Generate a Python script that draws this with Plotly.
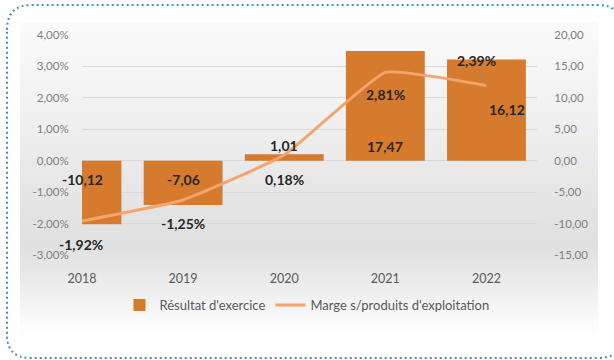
import plotly.graph_objects as go

# données
annees = ["2018", "2019", "2020", "2021", "2022"]
resultat = [-10.12, -7.06, 1.01, 17.47, 16.12]
marge = [-1.92, -1.25, 0.18, 2.81, 2.39]  # en %
ticks_gauche = [-3, -2, -1, 0, 1, 2, 3, 4]
ticks_droite = [-15, -10, -5, 0, 5, 10, 15, 20]

W, H = 614, 360
ORANGE = "#D67A2E"
SAUMON = "#F5A46E"


def fr(v, suffixe=""):
    return f"{v:.2f}".replace(".", ",") + suffixe


def p(x, y):
    # pixel -> coordonnées du calque de fond
    return f"{x},{H - y}"


fig = go.Figure()

# fond dégradé gris (décor)
fig.add_trace(go.Scatter(
    x=[20, 598, 598, 20, 20], y=[H - 22, H - 22, H - 335, H - 335, H - 22],
    mode="lines", line=dict(width=0), fill="toself",
    fillgradient=dict(
        type="vertical", start=H - 335, stop=H - 22,
        colorscale=[[0, "#ffffff"], [0.08, "#f6f6f6"], [0.18, "#eaeaea"],
                    [0.29, "#e0e0e0"], [0.46, "#e6e6e6"], [0.69, "#f0f0f0"],
                    [1, "#fbfbfb"]],
    ),
    xaxis="x", yaxis="y", hoverinfo="skip", showlegend=False,
))

fig.add_trace(go.Bar(
    x=annees, y=resultat, name="Résultat d'exercice",
    marker=dict(color=ORANGE, line=dict(width=0)),
    xaxis="x2", yaxis="y2",
))

fig.add_trace(go.Scatter(
    x=annees, y=marge, name="Marge s/produits d'exploitation",
    mode="lines", line=dict(color=SAUMON, width=3, shape="spline", smoothing=0.35),
    xaxis="x2", yaxis="y3",
))

# étiquettes des barres (décalages en pixels)
base_barre = [True, True, False, True, False]
decal_barre = [(0, -19), (0, -19), (0, 9), (0, 14), (21, -50)]
for i, (v, base, (dx, dy)) in enumerate(zip(resultat, base_barre, decal_barre)):
    fig.add_annotation(
        x=i, y=0 if base else v, xref="x2", yref="y2", text=f"<b>{fr(v)}</b>",
        showarrow=False, xshift=dx, yshift=dy,
        font=dict(size=14, color="#262626"),
    )

# étiquettes de la courbe
decal_ligne = [(-1, -23), (0, -23), (0, -24), (0, -22), None]
for i, (v, d) in enumerate(zip(marge, decal_ligne)):
    if d is None:
        fig.add_annotation(
            x=i, y=v, xref="x2", yref="y3", text=f"<b>{fr(v, '%')}</b>",
            showarrow=True, ax=-10, ay=-25, arrowhead=0, arrowwidth=1,
            arrowcolor="#8c8c8c",
            font=dict(size=14, color="#262626"),
        )
    else:
        fig.add_annotation(
            x=i, y=v, xref="x2", yref="y3", text=f"<b>{fr(v, '%')}</b>",
            showarrow=False, xshift=d[0], yshift=d[1],
            font=dict(size=14, color="#262626"),
        )

# cadre pointillé arrondi
chemin = (f"M {p(7, 30)} Q {p(7, 5)} {p(32, 5)} L {p(598, 5)} "
          f"Q {p(622, 5)} {p(622, 30)} L {p(622, 335)} Q {p(622, 358)} {p(598, 358)} "
          f"L {p(31, 358)} Q {p(7, 358)} {p(7, 335)} Z")
fig.add_shape(type="path", path=chemin, xref="x", yref="y",
              line=dict(color="#3f93b8", width=2, dash="2px,3px"))

transparent = "rgba(0,0,0,0)"
fig.update_layout(
    template="none",
    width=W, height=H, autosize=False,
    margin=dict(l=0, r=0, t=0, b=0, pad=0),
    paper_bgcolor="white", plot_bgcolor=transparent,
    separators=", ",
    font=dict(family="Lato, Open Sans, sans-serif", size=11.5, color="#7f7f7f"),
    xaxis=dict(domain=[0, 1], range=[0, W], visible=False, fixedrange=True,
               showgrid=False, zeroline=False, automargin=False),
    yaxis=dict(domain=[0, 1], range=[0, H], visible=False, fixedrange=True,
               showgrid=False, zeroline=False, automargin=False),
    xaxis2=dict(
        domain=[82 / W, 537 / W], anchor="y2", type="category", range=[0, 4.5],
        showgrid=False, zeroline=False, showline=False, automargin=False,
        ticks="outside", ticklen=12, tickcolor=transparent,
        tickfont=dict(size=12.5, color="#595959"),
    ),
    yaxis2=dict(
        domain=[1 - 255 / H, 1 - 35 / H], anchor="x2", side="right",
        range=[-15, 20], tickvals=ticks_droite, automargin=False,
        ticktext=[fr(v) for v in ticks_droite],
        showgrid=True, gridcolor="#d9d9d9", gridwidth=1, zeroline=False,
        ticks="outside", ticklen=14, tickcolor=transparent,
    ),
    yaxis3=dict(
        overlaying="y2", anchor="x2", side="left", range=[-3, 4],
        tickvals=ticks_gauche, ticktext=[fr(v, "%") for v in ticks_gauche],
        showgrid=False, zeroline=False, automargin=False,
        ticks="outside", ticklen=10, tickcolor=transparent,
    ),
    bargap=0.22,
    showlegend=True,
    legend=dict(
        orientation="h", x=0.5, xanchor="center", y=1 - 305 / H, yanchor="middle",
        font=dict(size=13, color="#595959"), bgcolor=transparent,
    ),
)

fig.write_html("out.html", config={"displayModeBar": False},
               post_script="document.body.style.margin='0';")
